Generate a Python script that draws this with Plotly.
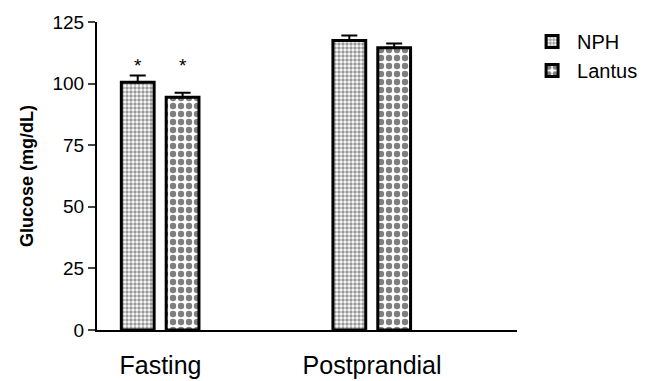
import plotly.graph_objects as go

categories = ["Fasting", "Postprandial"]
nph = [100.5, 117.5]
nph_err = [2.8, 2.0]
lantus = [94.5, 114.5]
lantus_err = [1.8, 1.8]
yticks = [0, 25, 50, 75, 100, 125]
star_y = [107.5, None]

x = [0, 1]
W = 0.155
OFF_N = -0.185
OFF_L = 0.027
fig = go.Figure()
fig.add_trace(go.Bar(
    x=x, y=nph, name="NPH", width=W, offset=OFF_N,
    marker=dict(color="white", line=dict(color="black", width=3),
                pattern=dict(shape=".", size=4, solidity=0.6, fgcolor="#333", bgcolor="white")),
    error_y=dict(type="data", array=nph_err, symmetric=False, arrayminus=[0, 0],
                 color="black", thickness=2, width=8),
))
fig.add_trace(go.Bar(
    x=x, y=lantus, name="Lantus", width=W, offset=OFF_L,
    marker=dict(color="white", line=dict(color="black", width=3),
                pattern=dict(shape=".", size=8, solidity=0.5, fgcolor="black", bgcolor="white")),
    error_y=dict(type="data", array=lantus_err, symmetric=False, arrayminus=[0, 0],
                 color="black", thickness=2, width=8),
))

for i, sy in enumerate(star_y):
    if sy is not None:
        for off in (OFF_N, OFF_L):
            fig.add_annotation(x=x[i] + off + W / 2, y=sy, text="*", showarrow=False,
                               font=dict(size=19, color="black"), yanchor="middle")

fig.update_layout(
    width=647, height=381,
    margin=dict(l=89, r=135, t=14, b=59),
    plot_bgcolor="white", paper_bgcolor="white",
    font=dict(family="Liberation Sans, Arial, sans-serif", color="black"),
    showlegend=True,
    legend=dict(x=1.024, y=1.0, xanchor="left", yanchor="top", font=dict(size=20),
                bgcolor="rgba(0,0,0,0)", itemwidth=40),
    barmode="overlay",
)
fig.update_xaxes(
    range=[-0.30, 1.685], tickvals=x, ticktext=categories, ticks="",
    showline=True, linecolor="black", linewidth=2, showgrid=False, zeroline=False,
    tickfont=dict(size=25), ticklabelstandoff=12, automargin=False,
)
fig.update_yaxes(
    range=[0, 125], tickvals=yticks, ticks="outside", ticklen=7, tickwidth=2,
    showline=True, linecolor="black", linewidth=2, showgrid=False, zeroline=False,
    tickfont=dict(size=19), automargin=False,
    title=dict(text="<b>Glucose (mg/dL)</b>", font=dict(size=18), standoff=14),
)
fig.write_html("out.html")
